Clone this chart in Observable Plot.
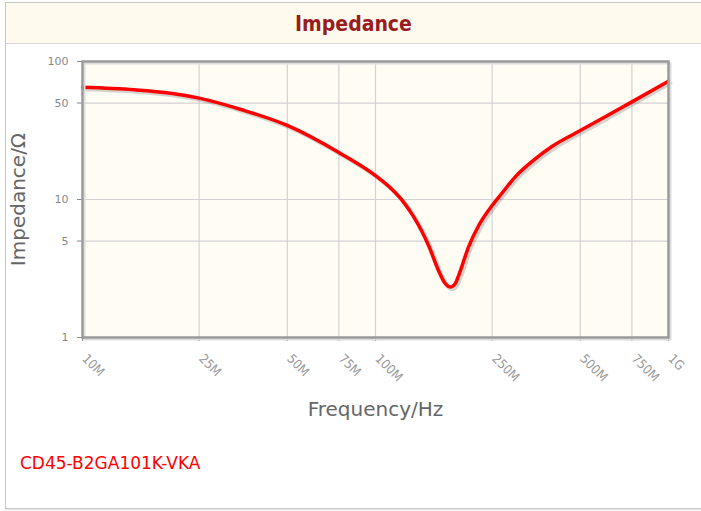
<!DOCTYPE html>
<html><head><meta charset="utf-8">
<script src="https://cdn.jsdelivr.net/npm/d3@7"></script>
<script src="https://cdn.jsdelivr.net/npm/@observablehq/plot@0.6"></script>
<style>
body{margin:0;background:#fff;width:701px;height:511px;overflow:hidden;position:relative;font-family:"DejaVu Sans",sans-serif}
#box{position:absolute;left:5px;top:2px;width:720px;height:505px;border:1px solid #c8c8c8;box-shadow:1px 1px 2px #ddd}
#title{position:absolute;left:6px;top:3px;width:695px;height:40px;background:#fffaee;border-bottom:1px solid #d6d6d6;text-align:center;font:bold 21px "DejaVu Sans Condensed",sans-serif;line-height:42px;color:#9b1c20}
#chart{position:absolute;left:0;top:44px}
#caption{position:absolute;left:20px;top:454px;font:17px "DejaVu Sans",sans-serif;line-height:18px;color:#ff0000}
</style></head><body>
<div id="box"></div>
<div id="title">Impedance</div>
<div id="chart"></div>
<div id="caption">CD45-B2GA101K-VKA</div>
<script>
// Frequency in MHz, impedance in ohms
const freqMHz = [10, 15, 20, 25, 35, 50, 75, 100, 114, 125, 134, 144, 152, 164, 172, 180, 187, 192, 208, 225, 250, 270, 300, 350, 400, 500, 750, 1000];
const impedance = [65, 62.4, 58.9, 54.3, 44.7, 34.4, 21.9, 14.9, 11.8, 9.5, 7.67, 5.87, 4.6, 3.06, 2.5, 2.32, 2.45, 2.8, 4.56, 6.48, 9.05, 11.1, 14.6, 19.6, 24.2, 31.6, 51, 72];
const xTicks = [10, 25, 50, 75, 100, 250, 500, 750, 1000];
const xTickLabels = ["10M", "25M", "50M", "75M", "100M", "250M", "500M", "750M", "1G"];
const yTicks = [1, 5, 10, 50, 100];
const yGrid = [5, 10, 50];
const xTitle = "Frequency/Hz";
const yTitle = "Impedance/Ω";

const data = freqMHz.map((f, i) => ({f, z: impedance[i]}));
const xLabelData = xTicks.map((t, i) => ({t, label: xTickLabels[i]}));

const chart = Plot.plot({
  width: 701,
  height: 390,
  marginTop: 17,
  marginBottom: 97,
  marginLeft: 82,
  marginRight: 33,
  style: {background: "none", color: "#888", fontSize: "11px", fontFamily: "DejaVu Sans"},
  x: {type: "log", domain: [10, 1000], ticks: xTicks, tickFormat: () => "", tickSize: 4, label: null},
  y: {type: "log", domain: [1, 100], ticks: yTicks, tickFormat: d => String(d), tickSize: 5, tickPadding: 9, label: null},
  marks: [
    Plot.frame({fill: "#fffcf4"}),
    Plot.ruleX(xTicks.slice(1, -1), {x: d => d, stroke: "#d2d2d2", strokeWidth: 1.2}),
    Plot.ruleY(yGrid, {y: d => d, stroke: "#d2d2d2", strokeWidth: 1.2}),
    Plot.line(data, {x: "f", y: "z", curve: "monotone-x", stroke: "#000", strokeOpacity: 0.16, strokeWidth: 4, dx: 2, dy: 2}),
    Plot.line(data, {x: "f", y: "z", curve: "monotone-x", stroke: "#ff0000", strokeWidth: 3.5}),
    Plot.frame({stroke: "#dcdcdc", strokeWidth: 2, dx: 2, dy: 2}),
    Plot.frame({stroke: "#9a9a9a", strokeWidth: 2.5}),
    Plot.text(xLabelData, {x: "t", text: "label", frameAnchor: "bottom", dx: 2, dy: 19, rotate: 45, textAnchor: "start", lineAnchor: "middle", fontSize: 13, fill: "#999", fontFamily: "DejaVu Sans Condensed"}),
    Plot.text([yTitle], {text: d => d, frameAnchor: "left", dx: -64, rotate: -90, textAnchor: "middle", lineAnchor: "middle", fontSize: 20, fill: "#666", fontFamily: "DejaVu Sans"}),
    Plot.text([xTitle], {text: d => d, frameAnchor: "bottom", dy: 72, textAnchor: "middle", lineAnchor: "middle", fontSize: 20, fill: "#666", fontFamily: "DejaVu Sans"})
  ]
});
document.getElementById("chart").appendChild(chart);
</script>
</body></html>
